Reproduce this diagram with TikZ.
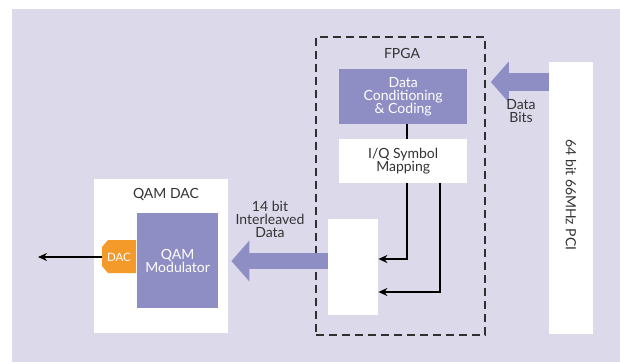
\documentclass[tikz,border=0pt]{standalone}
\usepackage{fontspec}
\setmainfont{Lato}
\usepackage{tikz}
\usetikzlibrary{arrows.meta}
\definecolor{PanelBack}{HTML}{DCDAEA}
\definecolor{BlockFill}{HTML}{8E8EC4}
\definecolor{ArrowFill}{HTML}{8E8EC4}
\definecolor{DacOrange}{HTML}{F39A2A}
\definecolor{TextGrey}{HTML}{333333}
\definecolor{DashGrey}{HTML}{303030}

\begin{document}
\begin{tikzpicture}[x=1pt,y=-1pt,
    font=\fontsize{14}{13}\selectfont,
    whitebox/.style={fill=white,draw=none,inner sep=0pt,anchor=north west},
    bluebox/.style={fill=BlockFill,draw=none,inner sep=0pt,anchor=north west,text=white,align=center},
    label/.style={text=TextGrey,align=center,inner sep=0pt},
    wire/.style={line width=1.6pt,-{Stealth[length=9pt,width=8pt]}},
    fatarrow/.style={ArrowFill,line width=#1,-{Triangle[length=18pt,width=40pt]}}]
      \useasboundingbox (0,0) rectangle (620,362);
      \fill[PanelBack] (12,9) rectangle (620,362);
      % FPGA
      \node[draw=DashGrey,line width=1.8pt,dash pattern=on 8pt off 5pt,inner sep=0pt,anchor=north west,
        minimum width=169pt,minimum height=298pt] (fpga) at (315,36) {};
      \node[label] (fpgalbl) at (402,53) {FPGA};
      \node[bluebox,minimum width=128pt,minimum height=55pt] (cond) at (339,69) {Data\\Conditioning\\\& Coding};
      \node[whitebox,minimum width=128pt,minimum height=44pt,text=TextGrey,align=center] (iq) at (339,139) {I/Q Symbol\\Mapping};
      \node[whitebox,minimum width=50pt,minimum height=96pt] (ilv) at (328,219) {};
      \draw[line width=1.6pt,black] (cond.south-|407,0) -- (iq.north-|407,0);
      \draw[wire] (iq.south-|407,0) |- (ilv.east|-0,259);
      \draw[wire] (iq.south-|440,0) |- (ilv.east|-0,292);
      % PCI
      \node[whitebox,minimum width=44pt,minimum height=272pt] (pci) at (549,62) {};
      \node[label,rotate=-90] (pcilbl) at (571,195) {64 bit 66MHz PCI};
      \draw[fatarrow=18pt,shorten >=5pt] (pci.west|-0,82) -- (fpga.east|-0,82);
      \node[label] (bitslbl) at (521,111) {Data\\Bits};
      % QAM DAC
      \node[whitebox,minimum width=134pt,minimum height=154pt] (qamdac) at (94,179) {};
      \node[label] (qamlbl) at (166,194) {QAM DAC};
      \node[bluebox,minimum width=81pt,minimum height=95pt] (qammod) at (137,213) {QAM\\Modulator};
      \fill[DacOrange] (108,240) -- (136,240) -- (136,273) -- (108,273) -- (102,266) -- (102,247) -- cycle;
      \node[text=white,inner sep=0pt,font=\fontsize{11.5}{12}\selectfont] (dac) at (119,257) {DAC};
      \coordinate (out) at (38,257);
      \draw[wire] (102,257) -- (out);
      \draw[fatarrow=16pt,shorten >=13pt] (ilv.west|-0,261) -- (qammod.east|-0,261);
      \node[label] (ilvlbl) at (270,219) {14 bit\\Interleaved\\Data};
\end{tikzpicture}
\end{document}
